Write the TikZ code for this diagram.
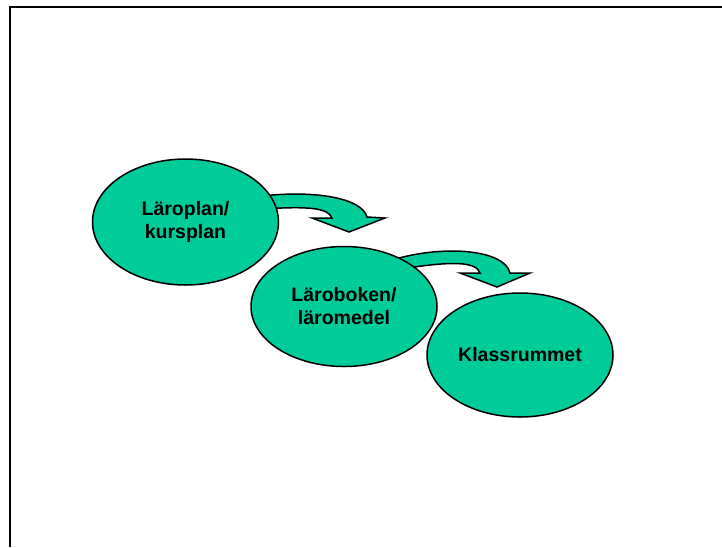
\documentclass[tikz,border=0pt]{standalone}
\usepackage{fontspec}
\setmainfont{Liberation Sans}
\usetikzlibrary{shapes.geometric,backgrounds}
\definecolor{plangreen}{RGB}{0,204,153}

\begin{document}
\begin{tikzpicture}[
		x=1pt,y=-1pt,
		every node/.style={ellipse,draw,line width=1.5pt,fill=plangreen,inner sep=0pt,
			minimum width=186pt,align=center,
			font=\fontsize{19.5}{23}\selectfont\bfseries},
		bentarrow/.style={draw,line width=1.5pt,fill=plangreen,line join=miter}
		]
		\useasboundingbox (0,0) rectangle (722,547);
		\draw[line width=2pt] (722,6.7) -- (10,6.7) -- (10,547);

		\node[minimum height=126pt] (plan) at (185.5,222) {Läroplan/\\kursplan};
		\node[minimum height=120pt] (book) at (344,306.5) {Läroboken/\\läromedel};
		\node[minimum height=124pt] (room) at (520,355) {Klassrummet};

		% bent arrows, tails hidden under the ellipses
		\begin{scope}[on background layer]
		\path[bentarrow] (plan.center) -- (262,196) .. controls (315,190) and (362,198) .. (367,217)
			-- (385,218) -- (349,232) -- (312,218) -- (332,218)
			.. controls (328,208) and (310,206) .. (262,209) -- cycle;
		\path[bentarrow] (book.center) -- (392,260) .. controls (445,244) and (505,250) .. (510,273)
			-- (530,273) -- (497,287) -- (460,273) -- (480,273)
			.. controls (476,262) and (455,260) .. (395,270) -- cycle;
		\end{scope}
\end{tikzpicture}
\end{document}
